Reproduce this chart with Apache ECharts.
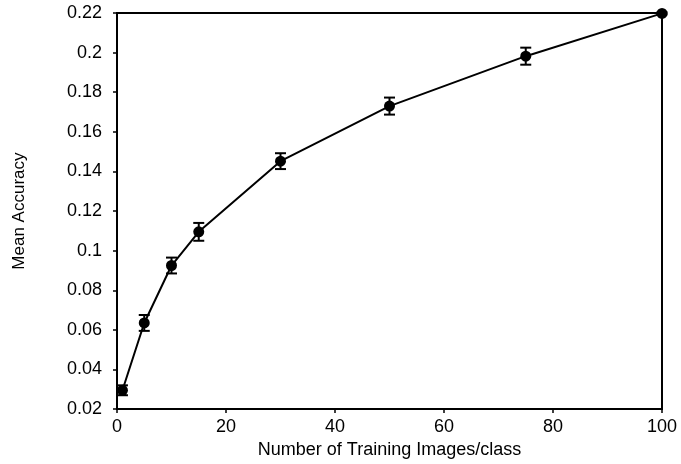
<!DOCTYPE html>
<html><head><meta charset="utf-8">
<script src="https://cdn.jsdelivr.net/npm/echarts@6/dist/echarts.min.js"></script>
<style>html,body{margin:0;padding:0;background:#fff}#c{width:681px;height:464px}</style>
</head><body><div id="c"></div>
<script>
const xValues = [1, 5, 10, 15, 30, 50, 75, 100];
const meanAcc = [0.0295, 0.0635, 0.0925, 0.1095, 0.1452, 0.1730, 0.1982, 0.2198];
const errHalf = [0.0025, 0.004, 0.004, 0.0045, 0.004, 0.0043, 0.0043, 0.0005];
const yTicks = [0.02, 0.04, 0.06, 0.08, 0.1, 0.12, 0.14, 0.16, 0.18, 0.2, 0.22];

const chart = echarts.init(document.getElementById('c'));
const font = 'Liberation Sans, Arial, sans-serif';
const lineData = xValues.map((x, i) => [x, meanAcc[i]]);
const errData = xValues.map((x, i) => [x, meanAcc[i] - errHalf[i], meanAcc[i] + errHalf[i]]);

chart.setOption({
  animation: false,
  grid: { left: 117, right: 19, top: 13, bottom: 54, show: true, borderColor: '#000', borderWidth: 2, backgroundColor: 'transparent' },
  xAxis: {
    type: 'value', min: 0, max: 100, interval: 20,
    name: 'Number of Training Images/class', nameLocation: 'middle', nameGap: 28,
    nameTextStyle: { color: '#000', fontSize: 18, fontFamily: font },
    axisLine: { lineStyle: { color: '#000', width: 2 } },
    axisTick: { show: true, length: 4, lineStyle: { color: '#000', width: 1.5 } },
    axisLabel: { color: '#000', fontSize: 18, fontFamily: font, margin: 9 },
    splitLine: { show: false }
  },
  yAxis: {
    type: 'value', min: 0.02, max: 0.22, interval: 0.02,
    name: 'Mean Accuracy', nameLocation: 'middle', nameGap: 89,
    nameTextStyle: { color: '#000', fontSize: 17, fontFamily: font },
    axisLine: { lineStyle: { color: '#000', width: 2 } },
    axisTick: { show: true, length: 4, lineStyle: { color: '#000', width: 1.5 } },
    axisLabel: { color: '#000', fontSize: 18, fontFamily: font, margin: 15,
      formatter: v => String(parseFloat(v.toFixed(2))) },
    splitLine: { show: false }
  },
  series: [
    {
      type: 'line', data: lineData, symbol: 'circle', symbolSize: 11,
      lineStyle: { color: '#000', width: 2 }, itemStyle: { color: '#000' }, z: 3
    },
    {
      type: 'custom', z: 4,
      renderItem: function (params, api) {
        const x = api.value(0);
        const lo = api.coord([x, api.value(1)]);
        const hi = api.coord([x, api.value(2)]);
        const hw = 5.5;
        const style = { stroke: '#000', lineWidth: 2 };
        return { type: 'group', children: [
          { type: 'line', shape: { x1: lo[0], y1: lo[1], x2: hi[0], y2: hi[1] }, style },
          { type: 'line', shape: { x1: lo[0] - hw, y1: lo[1], x2: lo[0] + hw, y2: lo[1] }, style },
          { type: 'line', shape: { x1: hi[0] - hw, y1: hi[1], x2: hi[0] + hw, y2: hi[1] }, style }
        ]};
      },
      data: errData
    }
  ]
});
</script></body></html>
